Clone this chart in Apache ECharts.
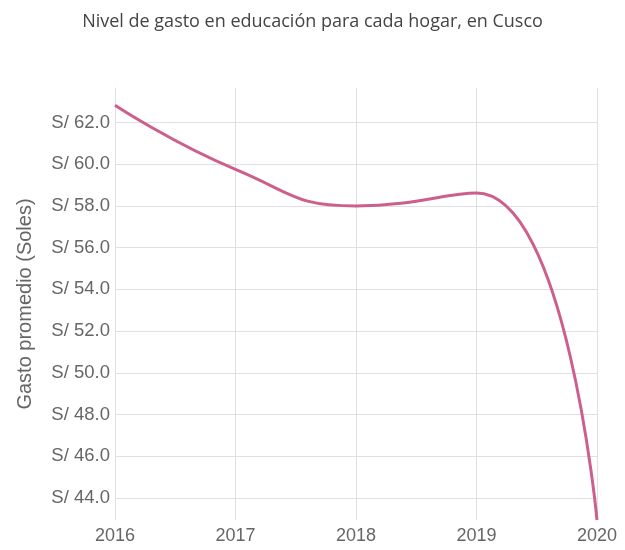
<!DOCTYPE html>
<html><head><meta charset="utf-8">
<script src="https://cdn.jsdelivr.net/npm/echarts@6/dist/echarts.min.js"></script>
<style>html,body{margin:0;padding:0;background:#fff}#c{width:625px;height:550px}</style>
</head><body><div id="c"></div>
<script>
const years = ['2016', '2017', '2018', '2019', '2020'];
const gasto = [62.82, 59.75, 58.0, 58.62, 42.95];
const titleText = 'Nivel de gasto en educación para cada hogar, en Cusco';
const yName = 'Gasto promedio (Soles)';

const chart = echarts.init(document.getElementById('c'), null, {renderer: 'canvas'});
chart.setOption({
  animation: false,
  backgroundColor: '#fff',
  title: {
    text: titleText, left: 'center', top: 8,
    textStyle: {fontFamily: 'Open Sans', fontSize: 18, fontWeight: 'normal', color: '#444'}
  },
  grid: {left: 115, right: 28, top: 88, bottom: 30},
  xAxis: {
    type: 'category', data: years, boundaryGap: false,
    axisLine: {show: false}, axisTick: {show: false},
    axisLabel: {fontFamily: 'Liberation Sans', fontSize: 18, color: '#666', margin: 7},
    splitLine: {show: true, lineStyle: {color: '#e0e0e0', width: 1}}
  },
  yAxis: {
    type: 'value', min: 42.95, max: 63.65, splitNumber: 10,
    name: yName, nameLocation: 'middle', nameGap: 80, nameRotate: 90,
    nameTextStyle: {fontFamily: 'Liberation Sans', fontSize: 20, color: '#666'},
    axisLine: {show: true, lineStyle: {color: '#e0e0e0'}}, axisTick: {show: false},
    axisLabel: {
      fontFamily: 'Liberation Sans', fontSize: 18.5, color: '#666', margin: 5,
      showMinLabel: false, showMaxLabel: false,
      formatter: v => (Math.abs(v % 2) < 1e-6 ? 'S/ ' + v.toFixed(1) : '')
    },
    splitLine: {show: true, showMinLine: false, showMaxLine: false, lineStyle: {color: '#e0e0e0', width: 1}}
  },
  series: [{
    type: 'line', data: gasto, smooth: 0.5,
    showSymbol: false, symbol: 'none',
    lineStyle: {color: '#cc5f8c', width: 3}
  }]
});
</script></body></html>
